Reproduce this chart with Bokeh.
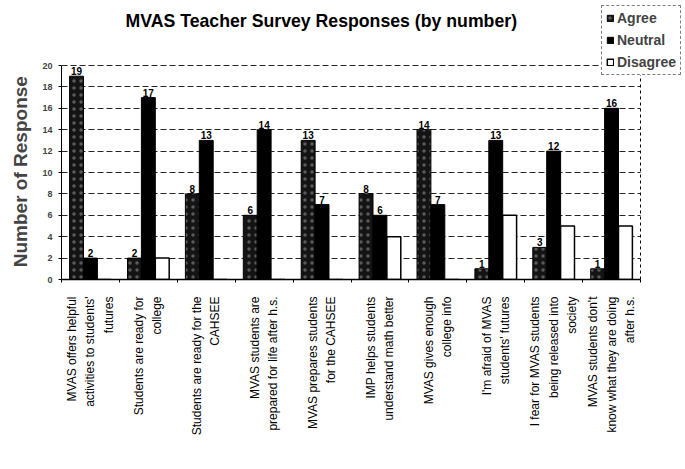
import math
from bokeh.plotting import figure
from bokeh.models import (ColumnDataSource, LabelSet, Label, Legend, LegendItem,
                          FixedTicker, Range1d)
from bokeh.core.properties import value
from bokeh.embed import file_html
from bokeh.resources import INLINE

# ---- data ----
label_lines = [
    ["MVAS offers helpful", "activities to students'", "futures"],
    ["Students are ready for", "college"],
    ["Students are ready for the", "CAHSEE"],
    ["MVAS students are", "prepared for life after h.s."],
    ["MVAS prepares students", "for the CAHSEE"],
    ["IMP helps students", "understand math better"],
    ["MVAS gives enough", "college info"],
    ["I'm afraid of MVAS", "students' futures"],
    ["I fear for MVAS students", "being released into", "society"],
    ["MVAS students don't", "know what they are doing", "after h.s."],
]
categories = ["\n".join(l) for l in label_lines]
agree = [19, 2, 8, 6, 13, 8, 14, 1, 3, 1]
neutral = [2, 17, 13, 14, 7, 6, 7, 13, 12, 16]
disagree = [0, 2, 0, 0, 0, 4, 0, 6, 5, 5]
series = ["Agree", "Neutral", "Disagree"]
y_ticks = list(range(0, 21, 2))

FONT = "Liberation Sans"

n = len(categories)
centers = [i + 0.5 for i in range(n)]
bw = 0.24

src = ColumnDataSource(dict(
    xc=centers,
    xa=[c - bw for c in centers], xn=centers, xd=[c + bw for c in centers],
    agree=agree, neutral=neutral, disagree=disagree,
    agree_t=[str(v) for v in agree], neutral_t=[str(v) for v in neutral]))

# frame covers the whole canvas top/right so title & legend can sit there
p = figure(x_range=Range1d(0, n * 624 / 579), y_range=Range1d(0, 20 * 279 / 214),
           width=685, height=469, output_backend="svg", toolbar_location=None,
           min_border_left=61, min_border_right=0, min_border_top=0, min_border_bottom=190)
p.background_fill_color = "white"
p.border_fill_color = "white"
p.outline_line_color = None

r_agree = p.vbar(x="xa", top="agree", width=bw, source=src,
                 fill_color="#141414", line_color="black", line_width=1,
                 hatch_pattern="dot", hatch_color="white", hatch_scale=7, hatch_weight=0.5, hatch_alpha=0.3)
r_neutral = p.vbar(x="xn", top="neutral", width=bw, source=src,
                   fill_color="black", line_color="black", line_width=1)
r_dis = p.vbar(x="xd", top="disagree", width=bw, source=src,
               fill_color="white", line_color="black", line_width=1.5)

for xf, fld in (("xa", "agree"), ("xn", "neutral")):
    p.add_layout(LabelSet(x=xf, y=fld, text=fld + "_t", source=src,
                          y_offset=1, text_align="center", text_baseline="bottom",
                          text_font=value(FONT), text_font_size=value("10px"),
                          text_font_style=value("bold"), text_color=value("black")))

# y axis (label padded with no-break spaces so it centres on the 0-20 span)
p.yaxis.ticker = FixedTicker(ticks=y_ticks)
p.yaxis.bounds = (0, 20)
p.yaxis.axis_label = "Number of Response" + "\u00a0" * 12
p.yaxis.axis_label_text_font = FONT
p.yaxis.axis_label_text_font_size = "19px"
p.yaxis.axis_label_text_font_style = "bold"
p.yaxis.axis_label_standoff = 8
p.yaxis.major_label_text_font = FONT
p.yaxis.major_label_text_font_size = "9px"
p.yaxis.major_label_text_font_style = "bold"
p.yaxis.major_label_standoff = 6
p.yaxis.major_tick_in = 0
p.yaxis.major_tick_out = 3
p.yaxis.minor_tick_line_color = None
p.yaxis.axis_line_color = "black"

# x axis: labels at centers, small ticks at group boundaries
p.xaxis.ticker = FixedTicker(ticks=centers, minor_ticks=list(range(n + 1)))
p.xaxis.bounds = (0, n)
p.xaxis.major_label_overrides = {c: t for c, t in zip(centers, categories)}
p.xaxis.major_label_orientation = math.pi / 2
p.xaxis.major_label_text_font = FONT
p.xaxis.major_label_text_font_size = "12px"
p.xaxis.major_label_text_color = "black"
p.xaxis.major_label_text_align = "center"
p.xaxis.major_label_text_line_height = 1.3
p.xaxis.major_label_standoff = 11
p.xaxis.major_tick_line_color = None
p.xaxis.minor_tick_line_color = "black"
p.xaxis.minor_tick_in = 0
p.xaxis.minor_tick_out = 3
p.xaxis.axis_line_color = "black"
p.xaxis.axis_line_width = 1.5

# grid: dashed horizontal lines over the chart, dashed right border
p.ygrid.grid_line_color = "black"
p.ygrid.grid_line_dash = "6 3"
p.ygrid.grid_line_width = 1
p.ygrid.grid_line_alpha = 0.85
p.xgrid.ticker = FixedTicker(ticks=[n])
p.xgrid.grid_line_color = "black"
p.xgrid.grid_line_dash = "3 3"
p.xgrid.grid_line_width = 1
if "cross_bounds" in p.ygrid[0].properties():
    p.ygrid.cross_bounds = (0, n)
    p.xgrid.cross_bounds = (0, 20)

# title
p.add_layout(Label(x=64 / 57.9, y=(279 - 20) / 10.7,
                   text="MVAS Teacher Survey Responses (by number)",
                   text_font=FONT, text_font_size="17.7px", text_font_style="bold",
                   text_baseline="middle", text_align="left", text_color="black"))

legend = Legend(items=[LegendItem(label=series[0], renderers=[r_agree]),
                       LegendItem(label=series[1], renderers=[r_neutral]),
                       LegendItem(label=series[2], renderers=[r_dis])],
                location=(540, 204), orientation="vertical",
                label_text_font=FONT, label_text_font_size="14px", label_text_font_style="bold",
                glyph_width=8, glyph_height=8, label_standoff=3, label_height=16,
                spacing=6, padding=4, margin=0,
                border_line_color="black", border_line_dash="3 2", border_line_width=1,
                background_fill_color="white", background_fill_alpha=1)
p.add_layout(legend)

open("out.html", "w").write(file_html(p, INLINE))
